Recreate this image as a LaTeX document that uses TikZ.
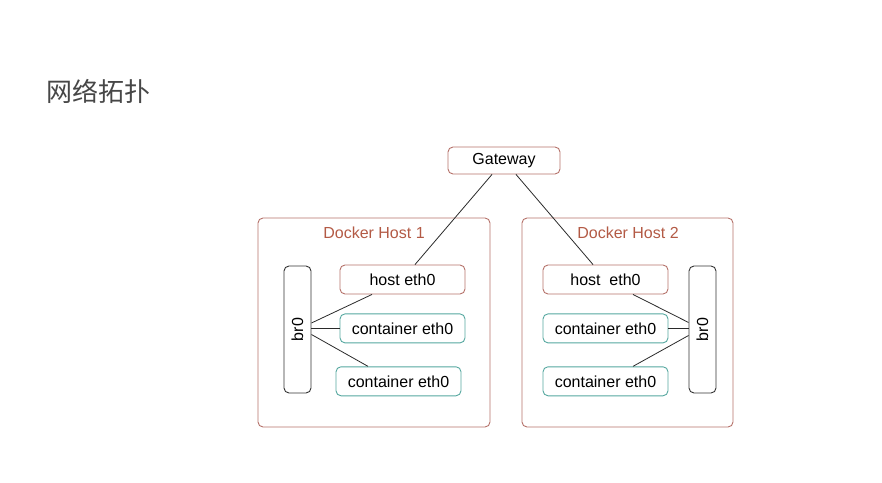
\documentclass[tikz,border=0pt]{standalone}
\usepackage{fontspec}
\setmainfont{Liberation Sans}
\newfontfamily\cjk{Noto Sans CJK SC}
\usepackage{xcolor}
\usepackage{tikz}
\usetikzlibrary{positioning}

\definecolor{hostred}{HTML}{B5726A}
\definecolor{hosttext}{HTML}{B35A45}
\definecolor{ctteal}{HTML}{55A79F}
\definecolor{linegray}{HTML}{2A2A2A}

\tikzset{
  hostbox/.style={draw=hostred, line width=0.9pt, rounded corners=5pt, inner sep=0pt},
  ethbox/.style={draw=hostred, line width=0.9pt, rounded corners=5pt, minimum width=125pt, minimum height=29pt, inner sep=0pt, font=\fontsize{16}{19}\selectfont},
  ctbox/.style={ethbox, draw=ctteal},
  bridge/.style={draw=black!80, line width=0.9pt, rounded corners=5pt, minimum width=27pt, minimum height=127pt, inner sep=0pt, font=\fontsize{16}{19}\selectfont},
  link/.style={draw=linegray, line width=0.8pt}
}

\begin{document}
\begin{tikzpicture}[x=1pt, y=1pt]
    \useasboundingbox (0,0) rectangle (882,482);
    % Nodes
    \node (title) [anchor=west, text=black!72, font=\cjk\fontsize{26}{29}\selectfont] at (43,391) {网络拓扑};
    \node (gateway) [ethbox, minimum width=112pt, minimum height=27pt] at (504,321.5) {Gateway};

    \node (host1) [hostbox, minimum width=232pt, minimum height=209pt] at (374,159.5) {};
    \node (host1-label) [text=hosttext, font=\fontsize{16}{19}\selectfont] at (374,249) {Docker Host 1};
    \node (host1-eth) [ethbox] at (402.5,202.5) {host eth0};
    \node (host1-ct1) [ctbox, below=19pt of host1-eth] {container eth0};
    \node (host1-ct2) [ctbox, below=23pt of host1-ct1, xshift=-4pt] {container eth0};
    \node (host1-br) [bridge] at (297.5,152.5) {\rotatebox{90}{br0}};

    \node (host2) [hostbox, minimum width=211pt, minimum height=209pt] at (627.5,159.5) {};
    \node (host2-label) [text=hosttext, font=\fontsize{16}{19}\selectfont] at (628,249) {Docker Host 2};
    \node (host2-eth) [ethbox] at (605.5,202.5) {host\ \ eth0};
    \node (host2-ct1) [ctbox, below=19pt of host2-eth] {container eth0};
    \node (host2-ct2) [ctbox, below=23pt of host2-ct1] {container eth0};
    \node (host2-br) [bridge] at (702.5,152.5) {\rotatebox{90}{br0}};

    % Links
    \draw[link] ([xshift=-12pt]gateway.south) -- ([xshift=12.5pt]host1-eth.north);
    \draw[link] ([xshift=12pt]gateway.south) -- ([xshift=-12.5pt]host2-eth.north);

    \draw[link] ([yshift=6.5pt]host1-br.east) -- ([xshift=-30.5pt]host1-eth.south);
    \draw[link] (host1-ct1.west -| host1-br.east) -- (host1-ct1.west);
    \draw[link] ([yshift=-5pt]host1-br.east) -- ([xshift=-30.5pt]host1-ct2.north);

    \draw[link] ([xshift=27.5pt]host2-eth.south) -- ([yshift=7pt]host2-br.west);
    \draw[link] (host2-ct1.east) -- (host2-ct1.east -| host2-br.west);
    \draw[link] ([xshift=27.5pt]host2-ct2.north) -- ([yshift=-6pt]host2-br.west);
\end{tikzpicture}
\end{document}
